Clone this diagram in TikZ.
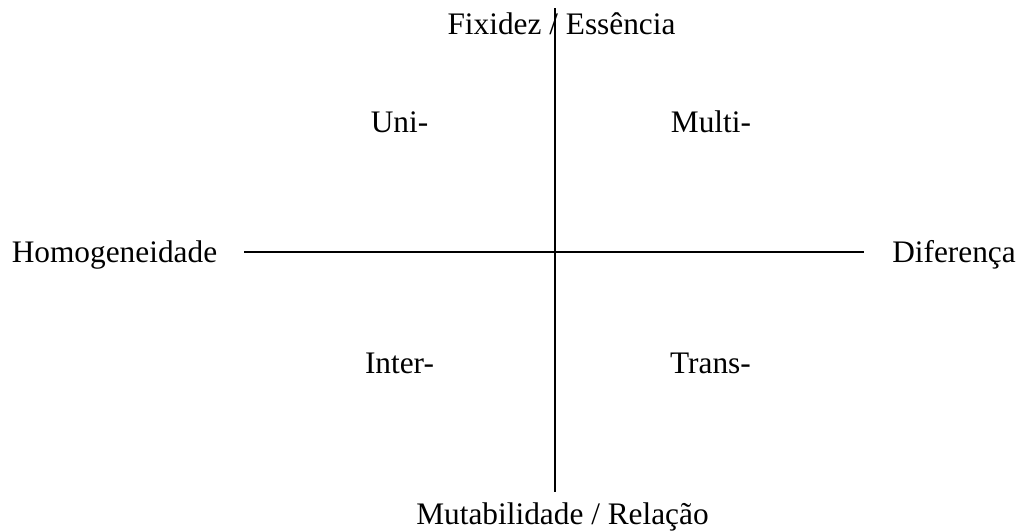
\documentclass[tikz,border=0pt]{standalone}
\usepackage{fontspec}
\setmainfont{Liberation Serif}
\usetikzlibrary{positioning}

\begin{document}
\begin{tikzpicture}[
        x=0.75pt, y=-0.75pt,
        label/.style={font=\fontsize{23.5}{28}\selectfont, inner sep=0pt, anchor=base},
        axis/.style={line width=1.4pt}
    ]
        \useasboundingbox (0,0) rectangle (1018,532);
        % axis ends
        \coordinate (top) at (555,8);
        \coordinate (bottom) at (555,492);
        \coordinate (left) at (244,252);
        \coordinate (right) at (864,252);
        % quadrants
        \node[label] (uni) at (399.5,132) {Uni-};
        \node[label] (multi) at (711,132) {Multi-};
        \node[label] (inter) at (399.5,373) {Inter-};
        \node[label] (trans) at (710.5,373) {Trans-};
        % poles
        \node[label] (fix) at (561.5,34) {Fixidez / Essência};
        \node[label] (mut) at (562.5,524) {Mutabilidade / Relação};
        \node[label] (homo) at (114.5,262) {Homogeneidade};
        \node[label] (dif) at (954,262) {Diferença};
        \draw[axis] (top) -- (bottom);
        \draw[axis] (left) -- (right);
    \end{tikzpicture}
\end{document}
